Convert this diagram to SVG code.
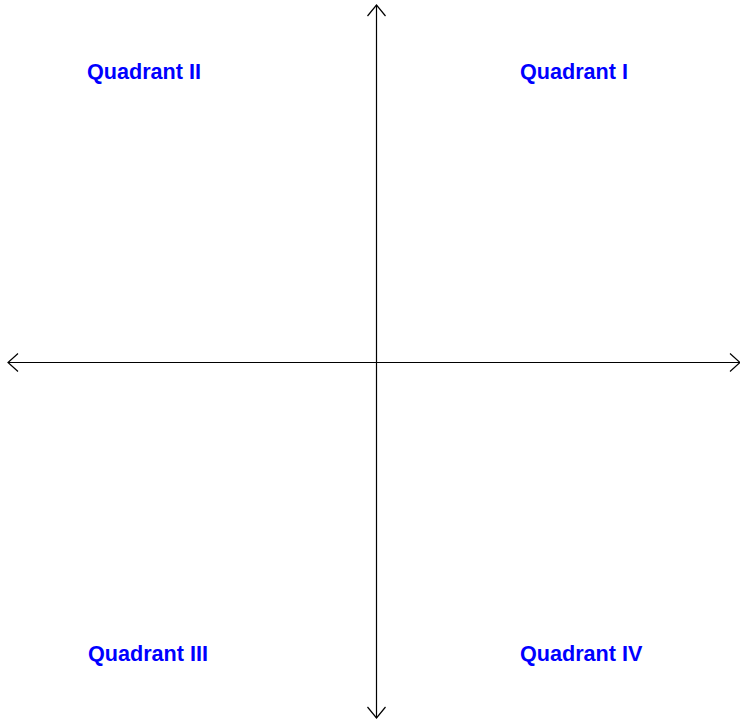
<svg xmlns="http://www.w3.org/2000/svg" width="740" height="721" viewBox="0 0 740 721">
<style>
.axis{stroke:#000;stroke-width:1.2;fill:none}
.lbl{font-family:"Liberation Sans",Arial,sans-serif;font-weight:bold;font-size:21.6px;fill:#0000FF}
</style>
<rect width="740" height="721" fill="#fff"/>
<g id="connectors">
<line class="axis" x1="376.5" y1="5" x2="376.5" y2="718"/>
<polyline class="axis" points="367.5,16 376.5,5 385.5,16"/>
<polyline class="axis" points="367.5,707 376.5,718 385.5,707"/>
<line class="axis" x1="8" y1="362.5" x2="740" y2="362.5"/>
<polyline class="axis" points="18,353.5 8,362.5 18,371.5"/>
<polyline class="axis" points="730,353.5 740,362.5 730,371.5"/>
</g>
<g id="q2"><text class="lbl" x="87" y="79">Quadrant II</text></g>
<g id="q1"><text class="lbl" x="520" y="79">Quadrant I</text></g>
<g id="q3"><text class="lbl" x="88" y="661">Quadrant III</text></g>
<g id="q4"><text class="lbl" x="520" y="661">Quadrant IV</text></g>
</svg>
